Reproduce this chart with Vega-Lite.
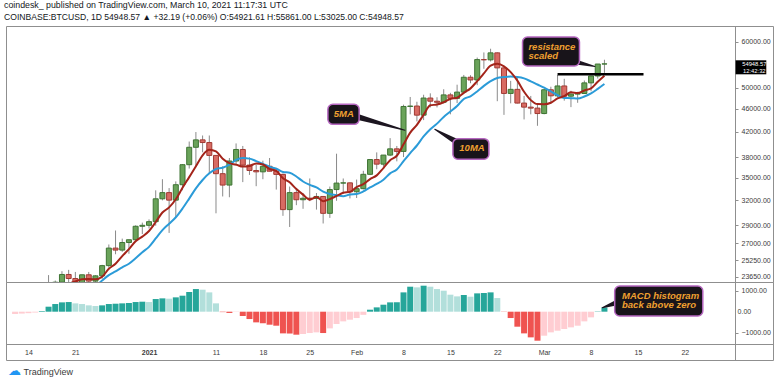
{
  "$schema": "https://vega.github.io/schema/vega-lite/v6.json",
  "background": "#ffffff",
  "padding": {"left": 4, "top": 1, "right": 0, "bottom": 0},
  "title": {
    "text": "coindesk_  published on TradingView.com, March 10, 2021 11:17:31 UTC",
    "subtitle": "COINBASE:BTCUSD, 1D  54948.57 ▲ +32.19 (+0.06%)  O:54921.61  H:55861.00  L:53025.00  C:54948.57",
    "anchor": "start", "frame": "group", "dx": -2,
    "font": "Liberation Sans", "fontSize": 8.8, "fontWeight": "normal", "color": "#131722",
    "subtitleFont": "Liberation Sans", "subtitleFontSize": 8.6, "subtitleColor": "#131722",
    "subtitlePadding": 3, "offset": 4
  },
  "spacing": 0,
  "bounds": "flush",
  "config": {
    "view": {"stroke": "#8f8f8f", "strokeWidth": 1},
    "axis": {"labelFont": "Liberation Sans", "titleFont": "Liberation Sans"}
  },
  "datasets": {
    "ohlc": [
      {"date":"2020-12-12","open":18030,"high":18950,"low":18000,"close":18800,"dir":"up"},
      {"date":"2020-12-13","open":18800,"high":19400,"low":18720,"close":19170,"dir":"up"},
      {"date":"2020-12-14","open":19170,"high":19350,"low":19000,"close":19275,"dir":"up"},
      {"date":"2020-12-15","open":19275,"high":19570,"low":19050,"close":19440,"dir":"up"},
      {"date":"2020-12-16","open":19440,"high":21560,"low":19300,"close":21380,"dir":"up","ma5":19613},
      {"date":"2020-12-17","open":21380,"high":23800,"low":21240,"close":22830,"dir":"up","ma5":20419},
      {"date":"2020-12-18","open":22830,"high":23290,"low":22350,"close":23140,"dir":"up","ma5":21213},
      {"date":"2020-12-19","open":23140,"high":24170,"low":22770,"close":23860,"dir":"up","ma5":22130},
      {"date":"2020-12-20","open":23860,"high":24300,"low":23090,"close":23480,"dir":"down","ma5":22938},
      {"date":"2020-12-21","open":23480,"high":24100,"low":22400,"close":22740,"dir":"down","ma5":23210,"ma10":21412},
      {"date":"2020-12-22","open":22740,"high":23840,"low":22350,"close":23830,"dir":"up","ma5":23410,"ma10":21915},
      {"date":"2020-12-23","open":23830,"high":24100,"low":22720,"close":23240,"dir":"down","ma5":23430,"ma10":22322},
      {"date":"2020-12-24","open":23240,"high":23790,"low":22700,"close":23730,"dir":"up","ma5":23404,"ma10":22767},
      {"date":"2020-12-25","open":23730,"high":24790,"low":23450,"close":24710,"dir":"up","ma5":23650,"ma10":23294},
      {"date":"2020-12-26","open":24710,"high":26870,"low":24500,"close":26490,"dir":"up","ma5":24400,"ma10":23805},
      {"date":"2020-12-27","open":26490,"high":28400,"low":25850,"close":26280,"dir":"down","ma5":24890,"ma10":24150},
      {"date":"2020-12-28","open":26280,"high":27500,"low":26100,"close":27080,"dir":"up","ma5":25658,"ma10":24544},
      {"date":"2020-12-29","open":27080,"high":27380,"low":25900,"close":27380,"dir":"up","ma5":26388,"ma10":24896},
      {"date":"2020-12-30","open":27380,"high":28990,"low":27330,"close":28880,"dir":"up","ma5":27222,"ma10":25436},
      {"date":"2020-12-31","open":28880,"high":29300,"low":28000,"close":28990,"dir":"up","ma5":27722,"ma10":26061},
      {"date":"2021-01-01","open":28990,"high":29680,"low":28630,"close":29410,"dir":"up","ma5":28348,"ma10":26619},
      {"date":"2021-01-02","open":29410,"high":33300,"low":28950,"close":32200,"dir":"up","ma5":29372,"ma10":27515},
      {"date":"2021-01-03","open":32200,"high":34800,"low":32000,"close":33000,"dir":"up","ma5":30496,"ma10":28442},
      {"date":"2021-01-04","open":33000,"high":33600,"low":28130,"close":32030,"dir":"down","ma5":31126,"ma10":29174},
      {"date":"2021-01-05","open":32030,"high":34500,"low":29900,"close":34050,"dir":"up","ma5":32138,"ma10":29930},
      {"date":"2021-01-06","open":34050,"high":36950,"low":33300,"close":36860,"dir":"up","ma5":33628,"ma10":30988},
      {"date":"2021-01-07","open":36860,"high":40400,"low":36300,"close":39490,"dir":"up","ma5":35086,"ma10":32229},
      {"date":"2021-01-08","open":39490,"high":41950,"low":36500,"close":40670,"dir":"up","ma5":36620,"ma10":33558},
      {"date":"2021-01-09","open":40670,"high":41380,"low":38720,"close":40240,"dir":"down","ma5":38262,"ma10":34694},
      {"date":"2021-01-10","open":40240,"high":41380,"low":35500,"close":38240,"dir":"down","ma5":39100,"ma10":35619},
      {"date":"2021-01-11","open":38240,"high":38240,"low":30400,"close":35570,"dir":"down","ma5":38842,"ma10":36235},
      {"date":"2021-01-12","open":35570,"high":36630,"low":32500,"close":34000,"dir":"down","ma5":37744,"ma10":36415},
      {"date":"2021-01-13","open":34000,"high":37850,"low":32400,"close":37400,"dir":"up","ma5":37090,"ma10":36855},
      {"date":"2021-01-14","open":37400,"high":40100,"low":36700,"close":39150,"dir":"up","ma5":36872,"ma10":37567},
      {"date":"2021-01-15","open":39150,"high":39700,"low":34400,"close":36800,"dir":"down","ma5":36584,"ma10":37842},
      {"date":"2021-01-16","open":36800,"high":37950,"low":35400,"close":36020,"dir":"down","ma5":36674,"ma10":37758},
      {"date":"2021-01-17","open":36020,"high":36850,"low":33850,"close":35830,"dir":"down","ma5":37040,"ma10":37392},
      {"date":"2021-01-18","open":35830,"high":37450,"low":34800,"close":36630,"dir":"up","ma5":36886,"ma10":36988},
      {"date":"2021-01-19","open":36630,"high":37850,"low":35900,"close":35920,"dir":"down","ma5":36240,"ma10":36556},
      {"date":"2021-01-20","open":35920,"high":36400,"low":33400,"close":35470,"dir":"down","ma5":35974,"ma10":36279},
      {"date":"2021-01-21","open":35470,"high":35600,"low":30100,"close":30850,"dir":"down","ma5":34940,"ma10":35807},
      {"date":"2021-01-22","open":30850,"high":33800,"low":28800,"close":33000,"dir":"up","ma5":34374,"ma10":35707},
      {"date":"2021-01-23","open":33000,"high":33480,"low":31400,"close":32080,"dir":"down","ma5":33464,"ma10":35175},
      {"date":"2021-01-24","open":32080,"high":32950,"low":30950,"close":32270,"dir":"up","ma5":32734,"ma10":34487},
      {"date":"2021-01-25","open":32270,"high":34900,"low":31900,"close":32250,"dir":"down","ma5":32090,"ma10":34032},
      {"date":"2021-01-26","open":32250,"high":32950,"low":30850,"close":32500,"dir":"up","ma5":32420,"ma10":33680},
      {"date":"2021-01-27","open":32500,"high":32550,"low":29200,"close":30400,"dir":"down","ma5":31900,"ma10":33137},
      {"date":"2021-01-28","open":30400,"high":33800,"low":29850,"close":33400,"dir":"up","ma5":32164,"ma10":32814},
      {"date":"2021-01-29","open":33400,"high":38500,"low":31950,"close":34270,"dir":"up","ma5":32564,"ma10":32649},
      {"date":"2021-01-30","open":34270,"high":34900,"low":32850,"close":34300,"dir":"up","ma5":32974,"ma10":32532},
      {"date":"2021-01-31","open":34300,"high":34350,"low":32250,"close":33110,"dir":"down","ma5":33096,"ma10":32758},
      {"date":"2021-02-01","open":33110,"high":34750,"low":32300,"close":33520,"dir":"up","ma5":33720,"ma10":32810},
      {"date":"2021-02-02","open":33520,"high":35980,"low":33420,"close":35480,"dir":"up","ma5":34136,"ma10":33150},
      {"date":"2021-02-03","open":35480,"high":37700,"low":35370,"close":37620,"dir":"up","ma5":34806,"ma10":33685},
      {"date":"2021-02-04","open":37620,"high":38700,"low":36200,"close":36940,"dir":"down","ma5":35334,"ma10":34154},
      {"date":"2021-02-05","open":36940,"high":38300,"low":36600,"close":38290,"dir":"up","ma5":36370,"ma10":34733},
      {"date":"2021-02-06","open":38290,"high":40950,"low":38130,"close":39250,"dir":"up","ma5":37516,"ma10":35618},
      {"date":"2021-02-07","open":39250,"high":39700,"low":37350,"close":38850,"dir":"down","ma5":38190,"ma10":36163},
      {"date":"2021-02-08","open":38850,"high":46750,"low":37990,"close":46420,"dir":"up","ma5":39950,"ma10":37378},
      {"date":"2021-02-09","open":46420,"high":48200,"low":45000,"close":46500,"dir":"up","ma5":41862,"ma10":38598},
      {"date":"2021-02-10","open":46500,"high":47300,"low":43750,"close":44850,"dir":"down","ma5":43174,"ma10":39772},
      {"date":"2021-02-11","open":44850,"high":48630,"low":43980,"close":48000,"dir":"up","ma5":44924,"ma10":41220},
      {"date":"2021-02-12","open":48000,"high":48900,"low":46250,"close":47400,"dir":"down","ma5":46634,"ma10":42412},
      {"date":"2021-02-13","open":47400,"high":48150,"low":46250,"close":47200,"dir":"down","ma5":46790,"ma10":43370},
      {"date":"2021-02-14","open":47200,"high":49700,"low":47000,"close":48600,"dir":"up","ma5":47210,"ma10":44536},
      {"date":"2021-02-15","open":48600,"high":49000,"low":45000,"close":47940,"dir":"down","ma5":47828,"ma10":45501},
      {"date":"2021-02-16","open":47940,"high":50600,"low":47050,"close":49140,"dir":"up","ma5":48056,"ma10":46490},
      {"date":"2021-02-17","open":49140,"high":52600,"low":48950,"close":52120,"dir":"up","ma5":49000,"ma10":47817},
      {"date":"2021-02-18","open":52120,"high":52550,"low":50900,"close":51560,"dir":"down","ma5":49872,"ma10":48331},
      {"date":"2021-02-19","open":51560,"high":56350,"low":50500,"close":55900,"dir":"up","ma5":51332,"ma10":49271},
      {"date":"2021-02-20","open":55900,"high":57500,"low":53900,"close":55840,"dir":"down","ma5":52912,"ma10":50370},
      {"date":"2021-02-21","open":55840,"high":58350,"low":55480,"close":57410,"dir":"up","ma5":54566,"ma10":51311},
      {"date":"2021-02-22","open":57410,"high":57530,"low":47400,"close":54090,"dir":"down","ma5":54960,"ma10":51980},
      {"date":"2021-02-23","open":54090,"high":54180,"low":44900,"close":48880,"dir":"down","ma5":54424,"ma10":52148},
      {"date":"2021-02-24","open":48880,"high":51380,"low":47000,"close":49680,"dir":"up","ma5":53180,"ma10":52256},
      {"date":"2021-02-25","open":49680,"high":52000,"low":46980,"close":47050,"dir":"down","ma5":51422,"ma10":52167},
      {"date":"2021-02-26","open":47050,"high":48400,"low":44100,"close":46300,"dir":"down","ma5":49200,"ma10":51883},
      {"date":"2021-02-27","open":46300,"high":48400,"low":45000,"close":46120,"dir":"down","ma5":47606,"ma10":51283},
      {"date":"2021-02-28","open":46120,"high":46700,"low":43000,"close":45140,"dir":"down","ma5":46858,"ma10":50641},
      {"date":"2021-03-01","open":45140,"high":49800,"low":45000,"close":49600,"dir":"up","ma5":46842,"ma10":50011},
      {"date":"2021-03-02","open":49600,"high":50200,"low":47000,"close":48420,"dir":"down","ma5":47116,"ma10":49269},
      {"date":"2021-03-03","open":48420,"high":52600,"low":48100,"close":50350,"dir":"up","ma5":47926,"ma10":48563},
      {"date":"2021-03-04","open":50350,"high":51800,"low":47500,"close":48350,"dir":"down","ma5":48372,"ma10":47989},
      {"date":"2021-03-05","open":48350,"high":49400,"low":46300,"close":48750,"dir":"up","ma5":49094,"ma10":47976},
      {"date":"2021-03-06","open":48750,"high":49200,"low":47100,"close":48870,"dir":"up","ma5":48948,"ma10":47895},
      {"date":"2021-03-07","open":48870,"high":51450,"low":48870,"close":50970,"dir":"up","ma5":49458,"ma10":48287},
      {"date":"2021-03-08","open":50970,"high":52400,"low":49300,"close":52380,"dir":"up","ma5":49864,"ma10":48895},
      {"date":"2021-03-09","open":52380,"high":54900,"low":51850,"close":54920,"dir":"up","ma5":51178,"ma10":49775},
      {"date":"2021-03-10","open":54921.61,"high":55861,"low":53025,"close":54948.57,"dir":"up","ma5":52418,"ma10":50756}
    ],
    "macd": [
      {"date":"2020-12-12","hist":-110,"state":"negUp"},
      {"date":"2020-12-13","hist":-90,"state":"negUp"},
      {"date":"2020-12-14","hist":-70,"state":"negUp"},
      {"date":"2020-12-15","hist":-40,"state":"negUp"},
      {"date":"2020-12-16","hist":30,"state":"posUp"},
      {"date":"2020-12-17","hist":238,"state":"posUp"},
      {"date":"2020-12-18","hist":365,"state":"posUp"},
      {"date":"2020-12-19","hist":444,"state":"posUp"},
      {"date":"2020-12-20","hist":460,"state":"posUp"},
      {"date":"2020-12-21","hist":397,"state":"posDown"},
      {"date":"2020-12-22","hist":365,"state":"posDown"},
      {"date":"2020-12-23","hist":302,"state":"posDown"},
      {"date":"2020-12-24","hist":270,"state":"posDown"},
      {"date":"2020-12-25","hist":302,"state":"posUp"},
      {"date":"2020-12-26","hist":365,"state":"posUp"},
      {"date":"2020-12-27","hist":380,"state":"posUp"},
      {"date":"2020-12-28","hist":397,"state":"posUp"},
      {"date":"2020-12-29","hist":413,"state":"posUp"},
      {"date":"2020-12-30","hist":460,"state":"posUp"},
      {"date":"2020-12-31","hist":476,"state":"posUp"},
      {"date":"2021-01-01","hist":460,"state":"posDown"},
      {"date":"2021-01-02","hist":603,"state":"posUp"},
      {"date":"2021-01-03","hist":635,"state":"posUp"},
      {"date":"2021-01-04","hist":620,"state":"posDown"},
      {"date":"2021-01-05","hist":683,"state":"posUp"},
      {"date":"2021-01-06","hist":762,"state":"posUp"},
      {"date":"2021-01-07","hist":937,"state":"posUp"},
      {"date":"2021-01-08","hist":1079,"state":"posUp"},
      {"date":"2021-01-09","hist":1048,"state":"posDown"},
      {"date":"2021-01-10","hist":920,"state":"posDown"},
      {"date":"2021-01-11","hist":397,"state":"posDown"},
      {"date":"2021-01-12","hist":-20,"state":"negDown"},
      {"date":"2021-01-13","hist":-60,"state":"negDown"},
      {"date":"2021-01-14","hist":-15,"state":"negUp"},
      {"date":"2021-01-15","hist":-206,"state":"negDown"},
      {"date":"2021-01-16","hist":-350,"state":"negDown"},
      {"date":"2021-01-17","hist":-508,"state":"negDown"},
      {"date":"2021-01-18","hist":-556,"state":"negDown"},
      {"date":"2021-01-19","hist":-619,"state":"negDown"},
      {"date":"2021-01-20","hist":-667,"state":"negDown"},
      {"date":"2021-01-21","hist":-1032,"state":"negDown"},
      {"date":"2021-01-22","hist":-1040,"state":"negDown"},
      {"date":"2021-01-23","hist":-1095,"state":"negDown"},
      {"date":"2021-01-24","hist":-1063,"state":"negUp"},
      {"date":"2021-01-25","hist":-1016,"state":"negUp"},
      {"date":"2021-01-26","hist":-984,"state":"negUp"},
      {"date":"2021-01-27","hist":-1016,"state":"negDown"},
      {"date":"2021-01-28","hist":-794,"state":"negUp"},
      {"date":"2021-01-29","hist":-587,"state":"negUp"},
      {"date":"2021-01-30","hist":-460,"state":"negUp"},
      {"date":"2021-01-31","hist":-381,"state":"negUp"},
      {"date":"2021-02-01","hist":-302,"state":"negUp"},
      {"date":"2021-02-02","hist":-150,"state":"negUp"},
      {"date":"2021-02-03","hist":95,"state":"posUp"},
      {"date":"2021-02-04","hist":206,"state":"posUp"},
      {"date":"2021-02-05","hist":333,"state":"posUp"},
      {"date":"2021-02-06","hist":444,"state":"posUp"},
      {"date":"2021-02-07","hist":450,"state":"posUp"},
      {"date":"2021-02-08","hist":920,"state":"posUp"},
      {"date":"2021-02-09","hist":1190,"state":"posUp"},
      {"date":"2021-02-10","hist":1159,"state":"posDown"},
      {"date":"2021-02-11","hist":1238,"state":"posUp"},
      {"date":"2021-02-12","hist":1190,"state":"posDown"},
      {"date":"2021-02-13","hist":1079,"state":"posDown"},
      {"date":"2021-02-14","hist":1000,"state":"posDown"},
      {"date":"2021-02-15","hist":810,"state":"posDown"},
      {"date":"2021-02-16","hist":730,"state":"posDown"},
      {"date":"2021-02-17","hist":794,"state":"posUp"},
      {"date":"2021-02-18","hist":714,"state":"posDown"},
      {"date":"2021-02-19","hist":873,"state":"posUp"},
      {"date":"2021-02-20","hist":889,"state":"posUp"},
      {"date":"2021-02-21","hist":920,"state":"posUp"},
      {"date":"2021-02-22","hist":650,"state":"posDown"},
      {"date":"2021-02-23","hist":-10,"state":"negDown"},
      {"date":"2021-02-24","hist":-302,"state":"negDown"},
      {"date":"2021-02-25","hist":-714,"state":"negDown"},
      {"date":"2021-02-26","hist":-1032,"state":"negDown"},
      {"date":"2021-02-27","hist":-1222,"state":"negDown"},
      {"date":"2021-02-28","hist":-1381,"state":"negDown"},
      {"date":"2021-03-01","hist":-1143,"state":"negUp"},
      {"date":"2021-03-02","hist":-984,"state":"negUp"},
      {"date":"2021-03-03","hist":-905,"state":"negUp"},
      {"date":"2021-03-04","hist":-825,"state":"negUp"},
      {"date":"2021-03-05","hist":-746,"state":"negUp"},
      {"date":"2021-03-06","hist":-667,"state":"negUp"},
      {"date":"2021-03-07","hist":-460,"state":"negUp"},
      {"date":"2021-03-08","hist":-270,"state":"negUp"},
      {"date":"2021-03-09","hist":15,"state":"posUp"},
      {"date":"2021-03-10","hist":200,"state":"posUp"}
    ],
    "boxes": [
      {"id":"5MA","x1":"2021-01-27T17:00:00Z","x2":"2021-02-01T09:00:00Z","y1":46820,"y2":43250},
      {"id":"10MA","x1":"2021-02-15T09:00:00Z","x2":"2021-02-20T18:00:00Z","y1":40860,"y2":37660},
      {"id":"res","x1":"2021-02-25T18:30:00Z","x2":"2021-03-06T06:30:00Z","y1":61130,"y2":54490}
    ],
    "labels": [
      {"t":"2021-01-28T14:00:00Z","p":45000,"label":"5MA"},
      {"t":"2021-02-16T08:00:00Z","p":39330,"label":"10MA"},
      {"t":"2021-02-26T15:30:00Z","p":58750,"label":"resistance"},
      {"t":"2021-02-26T15:30:00Z","p":56630,"label":"scaled"}
    ],
    "pointers": [
      {"id":"p5","end":"base","t":"2021-02-01T00:00:00Z","p":44600},
      {"id":"p5","end":"tip","t":"2021-02-08T05:00:00Z","p":42250},
      {"id":"p10","end":"base","t":"2021-02-16T00:00:00Z","p":40300},
      {"id":"p10","end":"tip","t":"2021-02-12T16:00:00Z","p":42410},
      {"id":"pres","end":"base","t":"2021-03-05T00:00:00Z","p":55600},
      {"id":"pres","end":"tip","t":"2021-03-08T14:00:00Z","p":54400}
    ],
    "level": [
      {"t1":"2021-03-03T00:00:00Z","t2":"2021-03-15T20:00:00Z","p":52730}
    ],
    "marker": [
      {"x1":"2021-03-29T14:00:00Z","x2":"2021-04-03T04:00:00Z","y1":55740,"y2":52730}
    ],
    "markerText": [
      {"t":"2021-04-01T09:00:00Z","p":54960,"label":"54948.57"},
      {"t":"2021-04-01T09:00:00Z","p":53470,"label":"12:42:32"}
    ],
    "macdBox": [
      {"x1":"2021-03-11T12:45:00Z","x2":"2021-03-24T16:30:00Z","y1":1224,"y2":-205}
    ],
    "macdLabels": [
      {"t":"2021-03-12T15:00:00Z","v":748,"label":"MACD histogram"},
      {"t":"2021-03-12T15:00:00Z","v":319,"label":"back above zero"}
    ],
    "macdZero": [
      {"t":"2021-03-29T21:00:00Z","v":0,"label":"0.00"}
    ],
    "macdPointer": [
      {"id":"pm","end":"base","t":"2021-03-12T00:00:00Z","v":450},
      {"id":"pm","end":"tip","t":"2021-03-09T16:00:00Z","v":190}
    ]
  },
  "vconcat": [
    {
      "width": 767,
      "height": 256,
      "layer": [
        {
          "data": {"name": "ohlc"},
          "mark": {"type": "rule", "color": "#8a8a8a", "strokeWidth": 1, "clip": true},
          "encoding": {
            "x": {"field": "date", "type": "temporal", "axis": null,
                  "scale": {"type": "utc", "domain": [{"year":2020,"month":12,"date":11,"hours":9,"minutes":24,"utc":true},{"year":2021,"month":4,"date":3,"hours":10,"minutes":7,"utc":true}]}},
            "y": {"field": "low", "type": "quantitative",
                  "scale": {"type": "log", "domain": [23159, 63852], "nice": false, "zero": false},
                  "axis": {"orient": "right", "offset": -38, "values": [23650,25250,27000,29000,32000,35000,38000,42000,46000,50000,60000],
                           "format": ".2f", "title": null, "grid": false, "domain": true, "domainColor": "#8f8f8f",
                           "ticks": true, "tickSize": 3, "tickColor": "#8f8f8f", "labelFontSize": 7, "labelColor": "#3b3b3b",
                           "labelPadding": 3, "labelFlush": false, "labelOverlap": false}},
            "y2": {"field": "high"}
          }
        },
        {
          "data": {"name": "ohlc"},
          "mark": {"type": "bar", "size": 5, "strokeWidth": 1, "clip": true},
          "encoding": {
            "x": {"field": "date", "type": "temporal", "axis": null,
                  "scale": {"type": "utc", "domain": [{"year":2020,"month":12,"date":11,"hours":9,"minutes":24,"utc":true},{"year":2021,"month":4,"date":3,"hours":10,"minutes":7,"utc":true}]}},
            "y": {"field": "open", "type": "quantitative",
                  "scale": {"type": "log", "domain": [23159, 63852], "nice": false, "zero": false}},
            "y2": {"field": "close"},
            "fill": {"field": "dir", "type": "nominal", "legend": null,
                     "scale": {"domain": ["up", "down"], "range": ["#6aa35a", "#d86b63"]}},
            "stroke": {"field": "dir", "type": "nominal", "legend": null,
                       "scale": {"domain": ["up", "down"], "range": ["#3f7434", "#a03a33"]}}
          }
        },
        {
          "data": {"name": "ohlc"},
          "mark": {"type": "line", "color": "#2b9bd8", "strokeWidth": 2, "interpolate": "monotone", "clip": true},
          "encoding": {
            "x": {"field": "date", "type": "temporal", "axis": null,
                  "scale": {"type": "utc", "domain": [{"year":2020,"month":12,"date":11,"hours":9,"minutes":24,"utc":true},{"year":2021,"month":4,"date":3,"hours":10,"minutes":7,"utc":true}]}},
            "y": {"field": "ma10", "type": "quantitative",
                  "scale": {"type": "log", "domain": [23159, 63852], "nice": false, "zero": false}}
          }
        },
        {
          "data": {"name": "ohlc"},
          "mark": {"type": "line", "color": "#a3241a", "strokeWidth": 2, "interpolate": "monotone", "clip": true},
          "encoding": {
            "x": {"field": "date", "type": "temporal", "axis": null,
                  "scale": {"type": "utc", "domain": [{"year":2020,"month":12,"date":11,"hours":9,"minutes":24,"utc":true},{"year":2021,"month":4,"date":3,"hours":10,"minutes":7,"utc":true}]}},
            "y": {"field": "ma5", "type": "quantitative",
                  "scale": {"type": "log", "domain": [23159, 63852], "nice": false, "zero": false}}
          }
        },
        {
          "data": {"name": "level"},
          "mark": {"type": "rule", "color": "#000000", "strokeWidth": 2.5},
          "encoding": {
            "x": {"field": "t1", "type": "temporal", "axis": null,
                  "scale": {"type": "utc", "domain": [{"year":2020,"month":12,"date":11,"hours":9,"minutes":24,"utc":true},{"year":2021,"month":4,"date":3,"hours":10,"minutes":7,"utc":true}]}},
            "x2": {"field": "t2"},
            "y": {"field": "p", "type": "quantitative",
                  "scale": {"type": "log", "domain": [23159, 63852], "nice": false, "zero": false}}
          }
        },
        {
          "data": {"name": "pointers"},
          "mark": {"type": "trail", "color": "#1c1520"},
          "encoding": {
            "x": {"field": "t", "type": "temporal", "axis": null,
                  "scale": {"type": "utc", "domain": [{"year":2020,"month":12,"date":11,"hours":9,"minutes":24,"utc":true},{"year":2021,"month":4,"date":3,"hours":10,"minutes":7,"utc":true}]}},
            "y": {"field": "p", "type": "quantitative",
                  "scale": {"type": "log", "domain": [23159, 63852], "nice": false, "zero": false}},
            "detail": {"field": "id", "type": "nominal"},
            "size": {"field": "end", "type": "ordinal", "legend": null,
                     "scale": {"domain": ["base", "tip"], "range": [6, 1]}}
          }
        },
        {
          "data": {"name": "boxes"},
          "mark": {"type": "rect", "fill": "#18141a", "stroke": "#b567c0", "strokeWidth": 1.5, "cornerRadius": 5},
          "encoding": {
            "x": {"field": "x1", "type": "temporal", "axis": null,
                  "scale": {"type": "utc", "domain": [{"year":2020,"month":12,"date":11,"hours":9,"minutes":24,"utc":true},{"year":2021,"month":4,"date":3,"hours":10,"minutes":7,"utc":true}]}},
            "x2": {"field": "x2"},
            "y": {"field": "y1", "type": "quantitative",
                  "scale": {"type": "log", "domain": [23159, 63852], "nice": false, "zero": false}},
            "y2": {"field": "y2"}
          }
        },
        {
          "data": {"name": "labels"},
          "mark": {"type": "text", "align": "left", "baseline": "middle", "font": "Liberation Sans", "fontSize": 9.5,
                   "fontStyle": "italic", "fontWeight": "bold", "color": "#f0a030"},
          "encoding": {
            "x": {"field": "t", "type": "temporal", "axis": null,
                  "scale": {"type": "utc", "domain": [{"year":2020,"month":12,"date":11,"hours":9,"minutes":24,"utc":true},{"year":2021,"month":4,"date":3,"hours":10,"minutes":7,"utc":true}]}},
            "y": {"field": "p", "type": "quantitative",
                  "scale": {"type": "log", "domain": [23159, 63852], "nice": false, "zero": false}},
            "text": {"field": "label"}
          }
        },
        {
          "data": {"name": "marker"},
          "mark": {"type": "rect", "fill": "#000000"},
          "encoding": {
            "x": {"field": "x1", "type": "temporal", "axis": null,
                  "scale": {"type": "utc", "domain": [{"year":2020,"month":12,"date":11,"hours":9,"minutes":24,"utc":true},{"year":2021,"month":4,"date":3,"hours":10,"minutes":7,"utc":true}]}},
            "x2": {"field": "x2"},
            "y": {"field": "y1", "type": "quantitative",
                  "scale": {"type": "log", "domain": [23159, 63852], "nice": false, "zero": false}},
            "y2": {"field": "y2"}
          }
        },
        {
          "data": {"name": "markerText"},
          "mark": {"type": "text", "align": "center", "baseline": "middle", "font": "Liberation Sans", "fontSize": 5.8, "color": "#ffffff"},
          "encoding": {
            "x": {"field": "t", "type": "temporal", "axis": null,
                  "scale": {"type": "utc", "domain": [{"year":2020,"month":12,"date":11,"hours":9,"minutes":24,"utc":true},{"year":2021,"month":4,"date":3,"hours":10,"minutes":7,"utc":true}]}},
            "y": {"field": "p", "type": "quantitative",
                  "scale": {"type": "log", "domain": [23159, 63852], "nice": false, "zero": false}},
            "text": {"field": "label"}
          }
        }
      ]
    },
    {
      "width": 767,
      "height": 78,
      "layer": [
        {
          "data": {"name": "macd"},
          "mark": {"type": "bar", "size": 6},
          "encoding": {
            "x": {"field": "date", "type": "temporal",
                  "scale": {"type": "utc", "domain": [{"year":2020,"month":12,"date":11,"hours":9,"minutes":24,"utc":true},{"year":2021,"month":4,"date":3,"hours":10,"minutes":7,"utc":true}]},
                  "axis": {"orient": "bottom", "offset": -16,
                           "values": [{"year":2020,"month":12,"date":14,"utc":true},{"year":2020,"month":12,"date":21,"utc":true},{"year":2021,"month":1,"date":1,"utc":true},{"year":2021,"month":1,"date":11,"utc":true},{"year":2021,"month":1,"date":18,"utc":true},{"year":2021,"month":1,"date":25,"utc":true},{"year":2021,"month":2,"date":1,"utc":true},{"year":2021,"month":2,"date":8,"utc":true},{"year":2021,"month":2,"date":15,"utc":true},{"year":2021,"month":2,"date":22,"utc":true},{"year":2021,"month":3,"date":1,"utc":true},{"year":2021,"month":3,"date":8,"utc":true},{"year":2021,"month":3,"date":15,"utc":true},{"year":2021,"month":3,"date":22,"utc":true}],
                           "labelExpr": "utcdate(datum.value) == 1 ? (utcmonth(datum.value) == 0 ? utcFormat(datum.value, '%Y') : utcFormat(datum.value, '%b')) : utcFormat(datum.value, '%-d')",
                           "labelFontWeight": {"condition": {"test": "utcmonth(datum.value) == 0 && utcdate(datum.value) == 1", "value": "bold"}, "value": "normal"},
                           "grid": false, "domain": true, "domainColor": "#8f8f8f", "ticks": false,
                           "labelFontSize": 7, "labelColor": "#3b3b3b", "labelPadding": 4, "labelFlush": false, "labelOverlap": false,
                           "title": "TradingView", "titleAnchor": "start", "titleAlign": "left", "titleBaseline": "middle",
                           "titleX": 17, "titleY": 27, "titleFontSize": 9, "titleFontWeight": "normal", "titleColor": "#3b3b3b"}},
            "y": {"field": "hist", "type": "quantitative",
                  "scale": {"domain": [-2300, 1414], "nice": false, "zero": false},
                  "axis": {"orient": "right", "offset": -38, "values": [-1000, 0, 1000], "format": ".2f",
                           "grid": false, "domain": true, "domainColor": "#8f8f8f", "ticks": true, "tickSize": 3, "tickColor": "#8f8f8f",
                           "labelFontSize": 7, "labelColor": "#3b3b3b", "labelPadding": 3, "labelFlush": false, "labelOverlap": false,
                           "title": "☁", "titleAngle": 0, "titleX": -721, "titleY": 88, "titleFontSize": 13,
                           "titleColor": "#2196f3", "titleAlign": "center", "titleBaseline": "middle", "titleFont": "DejaVu Sans"}},
            "y2": {"datum": 0},
            "color": {"field": "state", "type": "nominal", "legend": null,
                      "scale": {"domain": ["posUp", "posDown", "negDown", "negUp"], "range": ["#26a69a", "#b2dfdb", "#ef5350", "#ffcdd2"]}}
          }
        },
        {
          "data": {"name": "macdPointer"},
          "mark": {"type": "trail", "color": "#1c1520"},
          "encoding": {
            "x": {"field": "t", "type": "temporal",
                  "scale": {"type": "utc", "domain": [{"year":2020,"month":12,"date":11,"hours":9,"minutes":24,"utc":true},{"year":2021,"month":4,"date":3,"hours":10,"minutes":7,"utc":true}]}},
            "y": {"field": "v", "type": "quantitative",
                  "scale": {"domain": [-2300, 1414], "nice": false, "zero": false}},
            "detail": {"field": "id", "type": "nominal"},
            "size": {"field": "end", "type": "ordinal", "legend": null,
                     "scale": {"domain": ["base", "tip"], "range": [6, 1]}}
          }
        },
        {
          "data": {"name": "macdBox"},
          "mark": {"type": "rect", "fill": "#18141a", "stroke": "#b567c0", "strokeWidth": 1.5, "cornerRadius": 5},
          "encoding": {
            "x": {"field": "x1", "type": "temporal",
                  "scale": {"type": "utc", "domain": [{"year":2020,"month":12,"date":11,"hours":9,"minutes":24,"utc":true},{"year":2021,"month":4,"date":3,"hours":10,"minutes":7,"utc":true}]}},
            "x2": {"field": "x2"},
            "y": {"field": "y1", "type": "quantitative",
                  "scale": {"domain": [-2300, 1414], "nice": false, "zero": false}},
            "y2": {"field": "y2"}
          }
        },
        {
          "data": {"name": "macdLabels"},
          "mark": {"type": "text", "align": "left", "baseline": "middle", "font": "Liberation Sans", "fontSize": 9.5,
                   "fontStyle": "italic", "fontWeight": "bold", "color": "#f0a030"},
          "encoding": {
            "x": {"field": "t", "type": "temporal",
                  "scale": {"type": "utc", "domain": [{"year":2020,"month":12,"date":11,"hours":9,"minutes":24,"utc":true},{"year":2021,"month":4,"date":3,"hours":10,"minutes":7,"utc":true}]}},
            "y": {"field": "v", "type": "quantitative",
                  "scale": {"domain": [-2300, 1414], "nice": false, "zero": false}},
            "text": {"field": "label"}
          }
        },
        {
          "data": {"name": "macdZero"},
          "mark": {"type": "text", "align": "left", "baseline": "middle", "font": "Liberation Sans", "fontSize": 7, "color": "#3b3b3b"},
          "encoding": {
            "x": {"field": "t", "type": "temporal",
                  "scale": {"type": "utc", "domain": [{"year":2020,"month":12,"date":11,"hours":9,"minutes":24,"utc":true},{"year":2021,"month":4,"date":3,"hours":10,"minutes":7,"utc":true}]}},
            "y": {"field": "v", "type": "quantitative",
                  "scale": {"domain": [-2300, 1414], "nice": false, "zero": false}},
            "text": {"field": "label"}
          }
        }
      ]
    }
  ]
}
